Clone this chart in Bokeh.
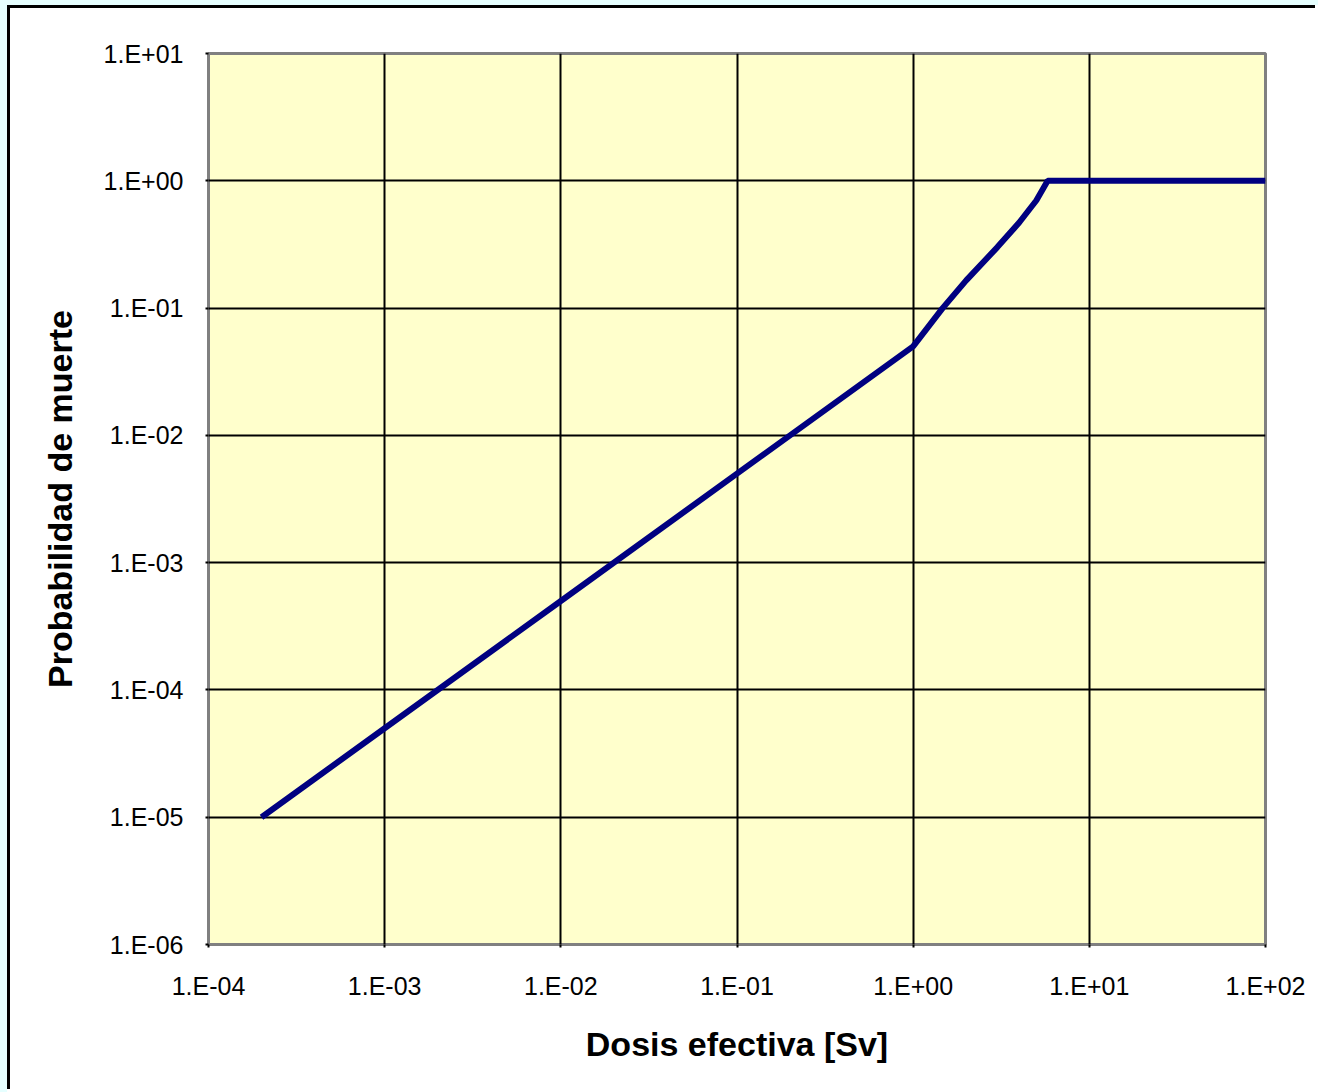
from bokeh.plotting import figure
from bokeh.models import FixedTicker, CustomJSTickFormatter, Range1d
from bokeh.embed import file_html
from bokeh.resources import INLINE

# Data
dose_sv = [2e-4, 1e-3, 1e-2, 1e-1, 1.0, 1.47, 2.0, 3.0, 4.0, 5.0, 5.8, 10.0, 100.0]
prob_death = [1e-5, 5e-5, 5e-4, 5e-3, 5e-2, 0.1, 0.165, 0.30, 0.47, 0.70, 1.0, 1.0, 1.0]

x_ticks = [1e-4, 1e-3, 1e-2, 1e-1, 1e0, 1e1, 1e2]
y_ticks = [1e-6, 1e-5, 1e-4, 1e-3, 1e-2, 1e-1, 1e0, 1e1]

x_label = "Dosis efectiva [Sv]"
y_label = "Probabilidad de muerte"

FONT = "Liberation Sans"

p = figure(width=1308, height=1084, x_axis_type="log", y_axis_type="log",
           x_range=Range1d(1e-4, 1e2), y_range=Range1d(1e-6, 1e1),
           output_backend="svg", toolbar_location=None)
p.styles = {
    "border-top": "3px solid black",
    "border-left": "3px solid black",
    "margin-left": "7px",
    "margin-top": "5px",
    "background-color": "white",
}

p.min_border_left = 198
p.min_border_right = 53
p.min_border_top = 45
p.min_border_bottom = 148

p.background_fill_color = "#FFFFCC"
p.border_fill_color = "white"
p.outline_line_color = "#808080"
p.outline_line_width = 3

fmt = CustomJSTickFormatter(code="""
const e = Math.round(Math.log10(tick));
const s = e < 0 ? '-' : '+';
return '1.E' + s + String(Math.abs(e)).padStart(2, '0');
""")

p.xaxis.ticker = FixedTicker(ticks=x_ticks, minor_ticks=[])
p.yaxis.ticker = FixedTicker(ticks=y_ticks, minor_ticks=[])
p.xaxis.formatter = fmt
p.yaxis.formatter = fmt

for ax in (p.xaxis, p.yaxis):
    ax.axis_line_color = None
    ax.major_tick_line_color = "black"
    ax.major_tick_line_width = 2
    ax.major_tick_out = 3
    ax.major_tick_in = 0
    ax.minor_tick_line_color = None
    ax.major_label_text_font = FONT
    ax.major_label_text_font_size = "25px"
    ax.major_label_text_color = "black"
    ax.axis_label_text_font = FONT
    ax.axis_label_text_font_size = "34px"
    ax.axis_label_text_font_style = "bold"
    ax.axis_label_text_color = "black"

p.xaxis.axis_label = x_label
p.yaxis.axis_label = y_label
p.xaxis.major_label_standoff = 24
p.yaxis.major_label_standoff = 22
p.xaxis.axis_label_standoff = 22
p.yaxis.axis_label_standoff = 22

p.grid.grid_line_color = "black"
p.grid.grid_line_width = 2
p.grid.minor_grid_line_color = None

p.line(dose_sv, prob_death, line_color="#000080", line_width=6)

html = file_html(p, INLINE)
css = ("<style>html { background: linear-gradient(to bottom, #E6FFFF 5px, transparent 5px), "
       "linear-gradient(to right, #E6FFFF 7px, white 7px); } body { background: transparent; }</style>")
html = html.replace("<head>", "<head>" + css, 1)
open("out.html", "w").write(html)
